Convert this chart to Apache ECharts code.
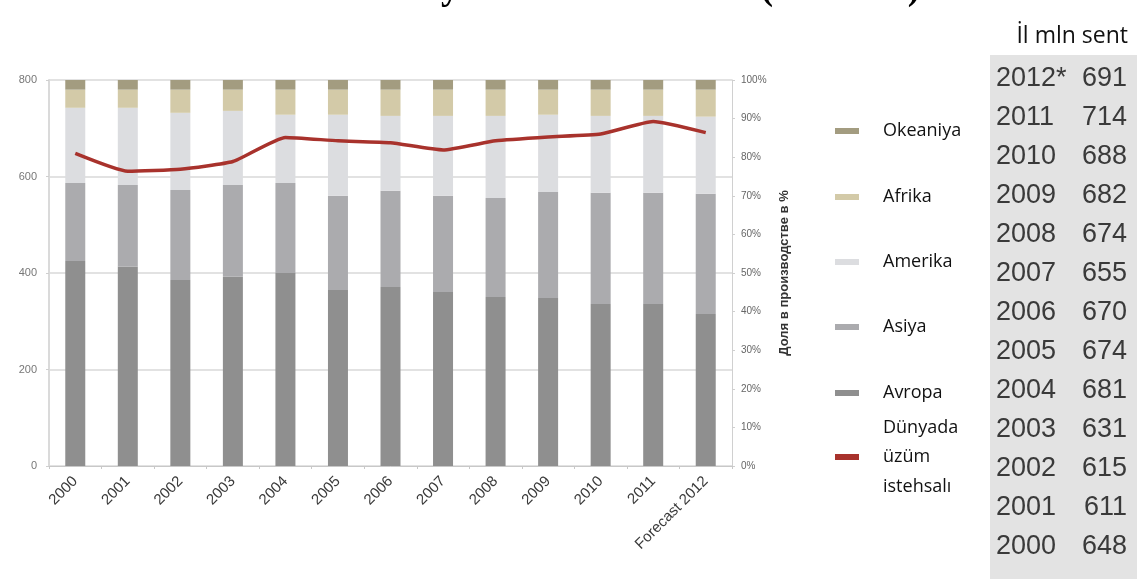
<!DOCTYPE html>
<html>
<head>
<meta charset="utf-8">
<script src="https://cdn.jsdelivr.net/npm/echarts@6/dist/echarts.min.js"></script>
<style>
html, body { margin: 0; padding: 0; background: #fff; }
#chart { width: 1137px; height: 579px; }
</style>
</head>
<body>
<div id="chart"></div>
<script>
// categories
var years = ['2000', '2001', '2002', '2003', '2004', '2005', '2006', '2007', '2008', '2009', '2010', '2011', 'Forecast 2012'];

// shares in %, bottom to top of each bar
var avropa   = [53.1, 51.6, 48.2, 49.0, 50.0, 45.6, 46.4, 45.1, 43.8, 43.5, 42.0, 42.0, 39.4];
var asiya    = [20.2, 21.2, 23.3, 23.8, 23.3, 24.4, 24.9, 24.9, 25.6, 27.5, 28.8, 28.8, 31.1];
var amerika  = [19.5, 20.0, 20.0, 19.2, 17.7, 21.0, 19.4, 20.7, 21.3, 20.0, 19.9, 19.9, 20.0];
var afrika   = [4.7, 4.7, 6.0, 5.5, 6.5, 6.5, 6.8, 6.8, 6.8, 6.5, 6.8, 6.8, 7.0];
var okeaniya = [2.5, 2.5, 2.5, 2.5, 2.5, 2.5, 2.5, 2.5, 2.5, 2.5, 2.5, 2.5, 2.5];

// world production, mln sent
var production = [648, 611, 615, 631, 681, 674, 670, 655, 674, 682, 688, 714, 691];

// table on the right (top row first)
var tableYears = ['2012*', '2011', '2010', '2009', '2008', '2007', '2006', '2005', '2004', '2003', '2002', '2001', '2000'];
var tableValues = production.slice().reverse();

var leftTicks = { min: 0, max: 800, interval: 200 };
var rightTicks = { min: 0, max: 100, interval: 10 };

var lineName = 'Dünyada\nüzüm\nistehsalı';

var dom = document.getElementById('chart');
var myChart = echarts.init(dom);

// one legend per item so the marker spacing stays even
var legendItems = [
    { name: 'Okeaniya', center: 131 },
    { name: 'Afrika', center: 197 },
    { name: 'Amerika', center: 262 },
    { name: 'Asiya', center: 327 },
    { name: 'Avropa', center: 393 },
    { name: lineName, center: 457, lines: 3 }
];
var lineH = 29.5;
var legends = legendItems.map(function (it) {
    var h = lineH * (it.lines || 1);
    return {
        orient: 'vertical',
        left: 835,
        top: it.center - h / 2,
        padding: 0,
        icon: 'rect',
        itemWidth: 24,
        itemHeight: 6,
        selectedMode: false,
        data: [it.name],
        textStyle: {
            fontFamily: 'Open Sans',
            fontSize: 18,
            color: '#111',
            lineHeight: lineH,
            padding: [0, 0, 0, 19]
        }
    };
});

var tableGraphics = [{
    type: 'rect',
    shape: { x: 990, y: 55, width: 147, height: 524 },
    style: { fill: '#e3e3e3' }
}];
tableYears.forEach(function (y, i) {
    var cy = 79 + i * 39;
    tableGraphics.push({
        type: 'text',
        style: {
            text: y, x: 996, y: cy,
            verticalAlign: 'middle', align: 'left',
            fontFamily: '"Liberation Sans Narrow", "Arial Narrow", sans-serif',
            fontSize: 27, fill: '#3a3a3a'
        }
    });
    tableGraphics.push({
        type: 'text',
        style: {
            text: String(tableValues[i]), x: 1127, y: cy,
            verticalAlign: 'middle', align: 'right',
            fontFamily: '"Liberation Sans Narrow", "Arial Narrow", sans-serif',
            fontSize: 27, fill: '#3a3a3a'
        }
    });
});

function barSeries(name, data, color) {
    return {
        name: name,
        type: 'bar',
        stack: 'share',
        yAxisIndex: 1,
        barWidth: 20,
        itemStyle: { color: color },
        data: data
    };
}

option = {
    animation: false,
    backgroundColor: '#fff',
    legend: legends,
    graphic: [{
        type: 'text',
        style: {
            text: 'Dünyada üzüm istehsalı (mln sent)',
            x: 920, y: 8,
            align: 'right', verticalAlign: 'bottom',
            fontFamily: 'Liberation Serif',
            fontWeight: 'bold',
            fontSize: 37,
            fill: '#000'
        }
    }, {
        type: 'text',
        style: {
            text: 'İl mln sent',
            x: 1128, y: 36,
            align: 'right', verticalAlign: 'middle',
            fontFamily: 'Open Sans',
            fontSize: 23,
            fill: '#111'
        }
    }].concat(tableGraphics),
    grid: { left: 49, right: 405, top: 80, bottom: 113 },
    xAxis: {
        type: 'category',
        data: years,
        axisLine: { lineStyle: { color: '#c8c8c8', width: 1 } },
        axisTick: { show: true, length: 3, lineStyle: { color: '#c8c8c8' } },
        axisLabel: {
            rotate: 45,
            margin: 13,
            interval: 0,
            fontFamily: 'Liberation Sans',
            fontSize: 15,
            color: '#3a3a3a'
        }
    },
    yAxis: [{
        type: 'value',
        min: leftTicks.min,
        max: leftTicks.max,
        interval: leftTicks.interval,
        axisLine: { show: true, lineStyle: { color: '#dadada', width: 2 } },
        axisTick: { show: true, length: 3, lineStyle: { color: '#cfcfcf' } },
        axisLabel: { margin: 12, fontFamily: 'Liberation Sans', fontSize: 11, color: '#777' },
        splitLine: { lineStyle: { color: '#d9d9d9', width: 1.5 } }
    }, {
        type: 'value',
        position: 'right',
        min: rightTicks.min,
        max: rightTicks.max,
        interval: rightTicks.interval,
        name: 'Доля в производстве в %',
        nameLocation: 'middle',
        nameRotate: 90,
        nameGap: 46,
        nameTextStyle: { fontFamily: 'Liberation Sans', fontSize: 13, fontWeight: 'bold', color: '#333' },
        axisLine: { show: true, lineStyle: { color: '#d0d0d0' } },
        axisTick: { show: true, length: 3, lineStyle: { color: '#cfcfcf' } },
        axisLabel: { margin: 9, fontFamily: 'Liberation Sans', fontSize: 10, color: '#666', formatter: '{value}%' },
        splitLine: { show: false }
    }],
    series: [
        barSeries('Avropa', avropa, '#8f8f8f'),
        barSeries('Asiya', asiya, '#ababae'),
        barSeries('Amerika', amerika, '#dcdde0'),
        barSeries('Afrika', afrika, '#d3caa8'),
        barSeries('Okeaniya', okeaniya, '#a39c80'),
        {
            name: lineName,
            type: 'line',
            yAxisIndex: 0,
            smooth: 0.15,
            symbol: 'none',
            lineStyle: { color: '#a8322c', width: 3.5 },
            itemStyle: { color: '#a8322c' },
            z: 5,
            data: production
        }
    ]
};

if (option && typeof option === "object") {
    myChart.setOption(option, true);
}
</script>
</body>
</html>
